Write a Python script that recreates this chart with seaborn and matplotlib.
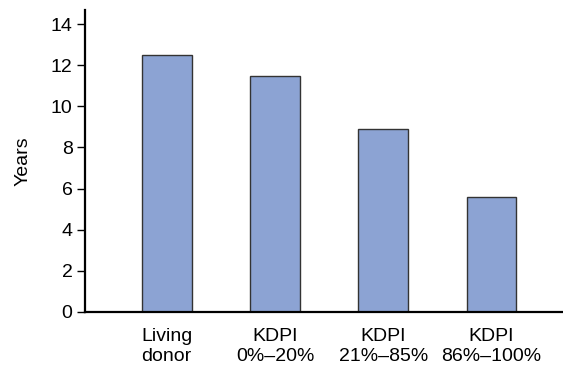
import numpy as np
import pandas as pd
import seaborn as sns
import matplotlib.pyplot as plt

sns.set_theme(style="ticks")
plt.rcParams['font.family'] = ['Liberation Sans', 'DejaVu Sans']
plt.rcParams['text.color'] = 'black'
plt.rcParams['axes.labelcolor'] = 'black'
plt.rcParams['xtick.color'] = 'black'
plt.rcParams['ytick.color'] = 'black'

# data
categories = ['Living\ndonor', 'KDPI\n0%\u201320%', 'KDPI\n21%\u201385%', 'KDPI\n86%\u2013100%']
years = [12.5, 11.5, 8.9, 5.6]

data = pd.DataFrame({'group': categories, 'years': years})

fig = plt.figure(figsize=(5.63, 3.68), dpi=100)
ax = fig.add_axes([0.151, 0.153, 0.849, 0.82])

sns.barplot(data=data, x='group', y='years', color='#8ca3d3', saturation=1,
            width=0.46, edgecolor='#333333', linewidth=1.0, ax=ax)

ax.set_xlim(-0.754, 3.66)
ax.set_ylim(0, 14.7)
ax.set_yticks(np.arange(0, 15, 2))
ax.set_xlabel('')
ax.set_ylabel('Years', fontsize=14, labelpad=14)
ax.tick_params(axis='y', labelsize=14, length=6, width=1, direction='out', pad=3)
ax.tick_params(axis='x', labelsize=14, length=0, pad=12)
for lbl in ax.get_xticklabels():
    lbl.set_linespacing(1.2)

sns.despine(ax=ax)
ax.spines['left'].set_linewidth(1.6)
ax.spines['bottom'].set_linewidth(1.6)
ax.spines['left'].set_color('black')
ax.spines['bottom'].set_color('black')

fig.savefig('out.png', dpi=100)
